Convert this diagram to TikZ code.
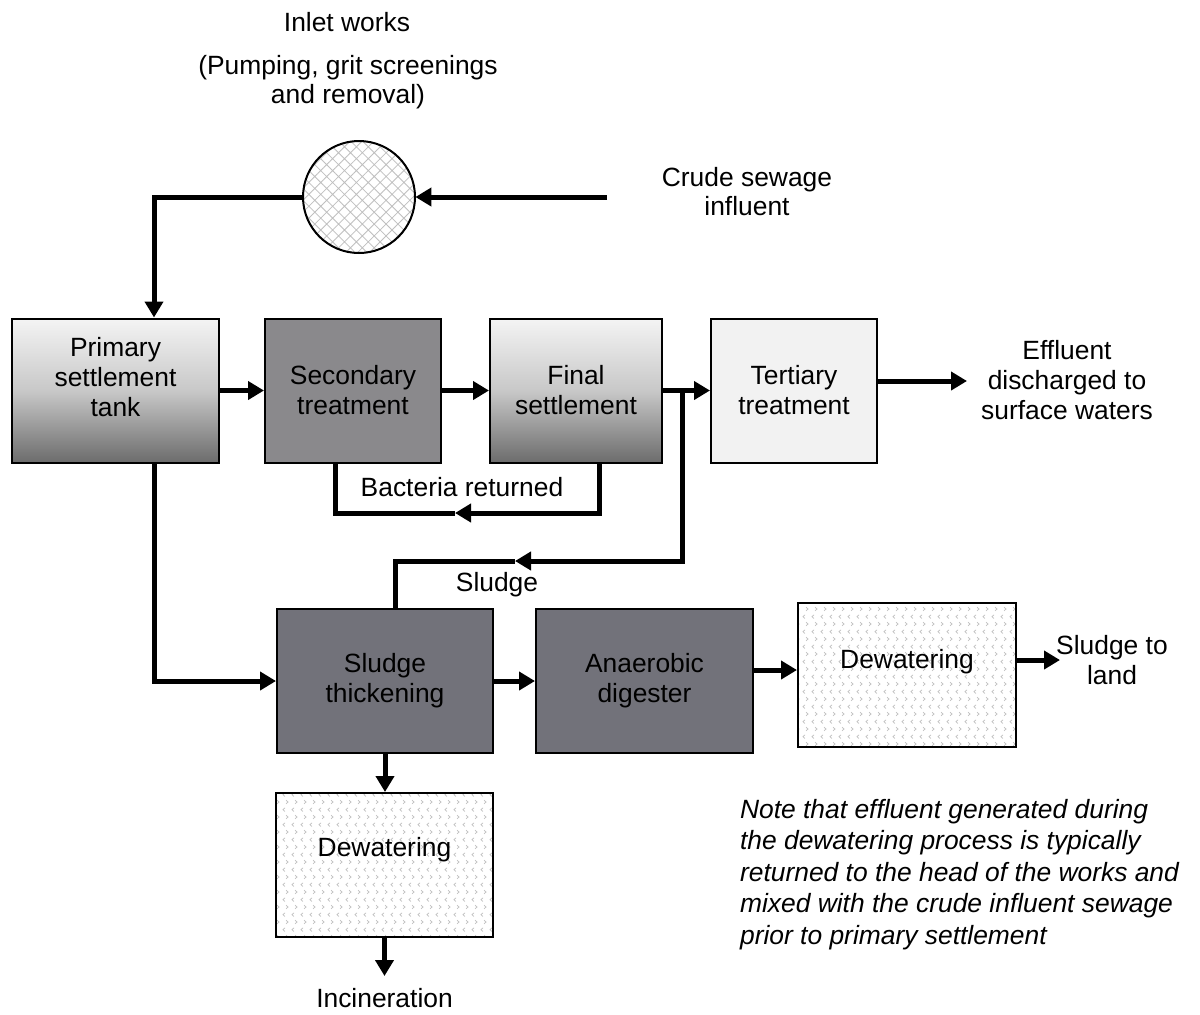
\documentclass[tikz,border=0pt]{standalone}
\usepackage{fontspec}
\setmainfont{Liberation Sans}
\usetikzlibrary{arrows.meta,patterns,patterns.meta}

\newcommand\diagfont{\fontsize{13.2}{15}\selectfont}
\newcommand\notefont{\fontsize{13.2}{15.8}\selectfont\itshape}

\definecolor{shadetop}{RGB}{244,244,244}
\definecolor{shademid}{RGB}{200,200,200}
\definecolor{shadebot}{RGB}{108,108,108}
\definecolor{midbox}{RGB}{138,137,140}
\definecolor{darkbox}{RGB}{114,114,122}
\definecolor{lightbox}{RGB}{242,242,242}

\pgfdeclarepatternformonly{chevrons}{\pgfqpoint{0pt}{0pt}}{\pgfqpoint{4.4pt}{7.4pt}}{\pgfqpoint{4.4pt}{7.4pt}}{%
  \pgfsetlinewidth{0.35pt}
  \pgfpathmoveto{\pgfqpoint{2.0pt}{6.6pt}}
  \pgfpathlineto{\pgfqpoint{1.0pt}{5.7pt}}
  \pgfpathlineto{\pgfqpoint{2.0pt}{4.8pt}}
  \pgfpathmoveto{\pgfqpoint{2.6pt}{2.9pt}}
  \pgfpathlineto{\pgfqpoint{3.6pt}{2.0pt}}
  \pgfpathlineto{\pgfqpoint{2.6pt}{1.1pt}}
  \pgfusepath{stroke}}

\begin{document}
\begin{tikzpicture}[x=0.5pt,y=-0.5pt,
            every node/.style={font=\diagfont},
            box/.style={draw,line width=1pt,inner sep=0pt,minimum height=72pt},
            boxtext/.style={align=center},
            shadedbox/.style={box,top color=shadetop,bottom color=shadebot,middle color=shademid},
            dewbox/.style={box,pattern=chevrons,pattern color=gray!50},
            flow/.style={line width=2.5pt,-{Triangle[length=8pt,width=9pt]}},
            pipe/.style={line width=2.5pt}]
            \useasboundingbox[fill=white] (0,0) rectangle (1200,1014);

            \node[draw,circle,line width=1pt,minimum size=56pt,inner sep=0pt,
                  pattern={Hatch[angle=45,distance=4.2pt,line width=0.4pt]},pattern color=gray!50] (inlet) at (359,197) {};
            \node (inlettitle) at (347,22) {Inlet works};
            \node[align=center,font=\fontsize{13.2}{14.5}\selectfont] (inletnote) at (348,82) {(Pumping, grit screenings\\and removal)};
            \node[align=center,font=\fontsize{13.2}{14.5}\selectfont] (crude) at (747,192) {Crude sewage\\influent};

            \node[shadedbox,minimum width=103.5pt,label={[boxtext,yshift=6.5pt]center:Primary\\settlement\\tank}] (primary) at (115.5,390.5) {};
            \node[box,fill=midbox,minimum width=88pt,label={[boxtext]center:Secondary\\treatment}] (secondary) at (353,390.5) {};
            \node[shadedbox,minimum width=86pt,label={[boxtext]center:Final\\settlement}] (final) at (576,390.5) {};
            \node[box,fill=lightbox,minimum width=83pt,label={[boxtext]center:Tertiary\\treatment}] (tertiary) at (794,390.5) {};
            \node[align=center] (effluent) at (1067,380) {Effluent\\discharged to\\surface waters};

            \node[box,fill=darkbox,minimum width=108pt,label={[boxtext]center:Sludge\\thickening}] (thick) at (385,681) {};
            \node[box,fill=darkbox,minimum width=108.5pt,label={[boxtext]center:Anaerobic\\digester}] (digest) at (644.5,681) {};
            \node[dewbox,minimum width=109pt,label={[boxtext,yshift=6.5pt]center:Dewatering}] (dewright) at (907,675) {};
            \node[align=center] (land) at (1112,660) {Sludge to\\land};
            \node[dewbox,minimum width=108.5pt,label={[boxtext,yshift=7.5pt]center:Dewatering}] (dewleft) at (384.5,865) {};
            \node (incin) at (384.5,998) {Incineration};

            \node (bacteria) at (462,487) {Bacteria returned};
            \node (sludge) at (497,585) {Sludge};
            \node[align=left,anchor=west,font=\notefont] (note) at (733,874.5) {Note that effluent generated during\\the dewatering process is typically\\returned to the head of the works and\\mixed with the crude influent sewage\\prior to primary settlement};

            \coordinate (crudetail) at (607,197);
            \coordinate (tee) at (682,390.5);
            \coordinate (sludgetip) at (515,561);
            \coordinate (bacteriatip) at (455,513);
            \coordinate (efftip) at (967,381);
            \coordinate (landtip) at (1060,660);
            \coordinate (incintip) at (384.5,976);

            \draw[flow] (crudetail) -- (inlet.east);
            \draw[flow] (inlet.west) -| ([xshift=19.25pt]primary.north);
            \draw[flow] (primary.east) -- (secondary.west);
            \draw[flow] (secondary.east) -- (final.west);
            \draw[flow] (final.east) -- (tertiary.west);
            \draw[flow] ([yshift=4.75pt]tertiary.east) -- (efftip);
            \draw[flow] ([xshift=11.5pt]final.south) |- (bacteriatip);
            \draw[pipe] (bacteriatip) -| ([xshift=-9pt]secondary.south);
            \draw[flow] (tee) |- (sludgetip);
            \draw[pipe] (sludgetip) -| ([xshift=5pt]thick.north);
            \draw[flow] ([xshift=19.5pt]primary.south) |- (thick.west);
            \draw[flow] (thick.east) -- (digest.west);
            \draw[flow] ([yshift=5.5pt]digest.east) -- ([yshift=2.5pt]dewright.west);
            \draw[flow] ([yshift=7.5pt]dewright.east) -- (landtip);
            \draw[flow] (thick.south) -- (thick.south |- dewleft.north);
            \draw[flow] (dewleft.south) -- (incintip);
        \end{tikzpicture}
\end{document}
